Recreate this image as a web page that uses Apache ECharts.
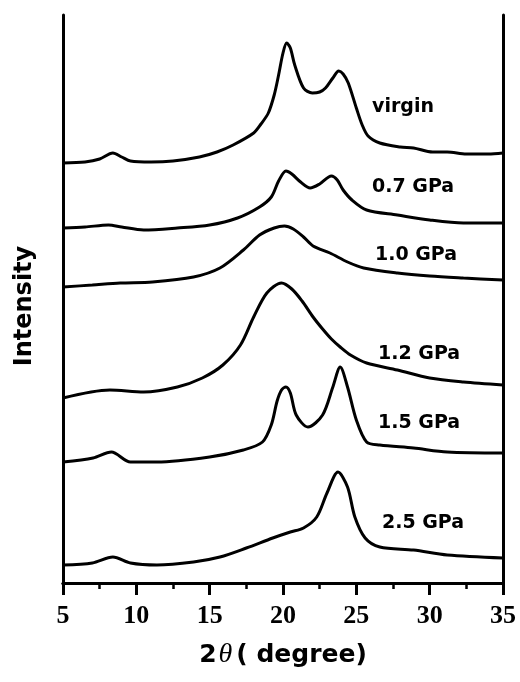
<!DOCTYPE html>
<html>
<head>
<meta charset="utf-8">
<script src="https://cdn.jsdelivr.net/npm/echarts@6/dist/echarts.min.js"></script>
<style>
  html, body { margin: 0; padding: 0; background: #fff; }
  #chart { width: 520px; height: 682px; }
</style>
</head>
<body>
<div id="chart"></div>
<script>
// stacked XRD patterns, intensity in arbitrary (offset) units
var names = ['virgin', '0.7 GPa', '1.0 GPa', '1.2 GPa', '1.5 GPa', '2.5 GPa'];

var virgin = [[5,420],[6.5,421],[7.5,424],[8.4,430],[9,426],[9.6,422],[11,421],[12.5,422],[14.3,426],[15.5,431],[16.6,438],[18,450],[18.5,459],[19,470],[19.4,488],[19.7,508],[20,530],[20.25,540],[20.5,535],[20.8,518],[21.4,495],[22,490],[22.5,491],[22.9,495],[23.4,505],[23.8,512],[24.1,509],[24.45,500],[25,475],[25.4,458],[25.8,447],[26.6,440],[28,436],[28.9,435],[30.2,431],[31.2,431],[32.5,429],[34,429],[35,430]];
var gpa07 = [[5,355],[6.5,356],[8.1,358],[9,356],[10.5,353],[12.8,355],[15,358],[16.9,365],[18.4,376],[19.2,386],[19.7,402],[20.2,412],[20.6,409],[21.2,401],[21.85,395],[22.5,399],[23.3,407],[23.7,403],[24.1,393],[24.7,383],[25.7,373],[27.8,368],[30,363],[32.3,360],[35,360]];
var gpa10 = [[5,296],[7,298],[8.9,300],[11.1,301],[13.9,306],[15.7,315],[17.3,333],[18.4,348],[19.4,355],[20.1,357],[20.7,354],[21.4,346],[22.05,337],[23.2,330],[24.4,321],[25.5,315],[27.8,310],[30,307],[32.3,305],[35,303]];
var gpa12 = [[5,185],[8.2,193],[10.5,191],[12.8,196],[14.5,205],[15.9,218],[17.1,238],[18,266],[18.9,290],[19.9,300],[20.6,294],[21.3,282],[22.05,266],[22.7,254],[23.3,244],[23.9,236],[24.6,228],[25.7,220],[27.8,213],[30,205],[32.3,201],[35,198]];
var gpa15 = [[5,121],[7.05,125],[8.3,131],[9.6,121],[11.4,121],[15,126],[17.3,133],[18.6,141],[19.2,158],[19.6,182],[19.9,193],[20.2,196],[20.5,190],[20.9,168],[21.7,156],[22.7,168],[23.4,196],[23.9,216],[24.4,196],[25,163],[25.7,141],[26.6,138],[28.9,135],[31.2,131],[35,130]];
var gpa25 = [[5,18],[7,20],[8.4,26],[9.6,20],[11.4,18],[13.9,21],[15.7,26],[17.5,35],[19.3,45],[20.5,51],[21.4,55],[22.3,66],[23,90],[23.75,111],[24.4,96],[24.9,66],[25.6,45],[26.6,36],[28.9,33],[31.2,28],[35,25]];

// where each curve's caption sits (2theta, intensity)
var labelPos = [[26.07,476],[26.07,396],[26.27,328],[26.48,229],[26.48,160],[26.75,60]];

var xTicks = [5, 10, 15, 20, 25, 30, 35];

var patterns = [virgin, gpa07, gpa10, gpa12, gpa15, gpa25];

var myChart = echarts.init(document.getElementById('chart'));

var frameLine = { show: true, lineStyle: { color: '#000', width: 3 } };

var series = [];
for (var i = 0; i < patterns.length; i++) {
  series.push({
    name: names[i],
    type: 'line',
    data: patterns[i],
    smooth: 0.3,
    showSymbol: false,
    silent: true,
    lineStyle: { color: '#000', width: 3 },
    markPoint: {
      symbol: 'circle',
      symbolSize: 0,
      silent: true,
      data: [{ coord: labelPos[i], value: names[i] }],
      label: {
        show: true,
        position: 'right',
        distance: 0,
        formatter: '{c}',
        color: '#000',
        fontFamily: 'DejaVu Sans',
        fontWeight: 'bold',
        fontSize: 19
      }
    }
  });
}

myChart.setOption({
  animation: false,
  grid: { left: 63, right: 17, top: 15, bottom: 99 },
  xAxis: [{
    type: 'value',
    min: xTicks[0],
    max: xTicks[xTicks.length - 1],
    interval: 5,
    position: 'bottom',
    axisLine: frameLine,
    axisTick: { show: true, inside: false, length: 12, lineStyle: { color: '#000', width: 3 } },
    minorTick: { show: true, splitNumber: 2, length: 6, lineStyle: { color: '#000', width: 2.5 } },
    splitLine: { show: false },
    axisLabel: {
      margin: 20,
      color: '#000',
      fontFamily: 'Liberation Serif',
      fontWeight: 'bold',
      fontSize: 26
    },
    name: '{a|2}{t|θ}{a|( degree)}',
    nameLocation: 'middle',
    nameGap: 58,
    nameTextStyle: {
      rich: {
        a: { fontFamily: 'DejaVu Sans', fontWeight: 'bold', fontSize: 25, color: '#000' },
        t: { fontFamily: 'Liberation Serif', fontStyle: 'italic', fontSize: 28, color: '#000', padding: [0, 4, 0, 2] }
      }
    }
  }, {
    type: 'value',
    min: xTicks[0],
    max: xTicks[xTicks.length - 1],
    position: 'top',
    axisLine: frameLine,
    axisTick: { show: false },
    axisLabel: { show: false },
    splitLine: { show: false }
  }],
  yAxis: [{
    type: 'value',
    min: 0,
    max: 568,
    position: 'left',
    axisLine: frameLine,
    axisTick: { show: false },
    axisLabel: { show: false },
    splitLine: { show: false },
    name: 'Intensity',
    nameLocation: 'middle',
    nameGap: 26,
    nameTextStyle: { fontFamily: 'DejaVu Sans', fontWeight: 'bold', fontSize: 24, color: '#000', padding: [0, 14, 0, 0] }
  }, {
    type: 'value',
    min: 0,
    max: 568,
    position: 'right',
    axisLine: frameLine,
    axisTick: { show: false },
    axisLabel: { show: false },
    splitLine: { show: false }
  }],
  series: series
});
</script>
</body>
</html>
